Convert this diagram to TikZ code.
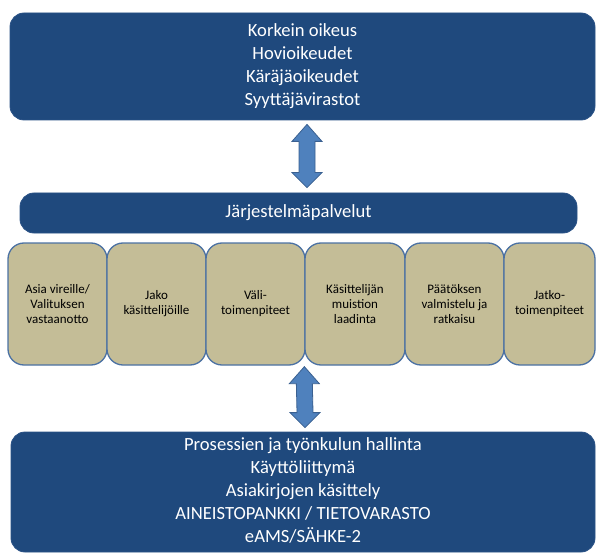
\documentclass[tikz,border=0pt]{standalone}
\usepackage{fontspec}
\setmainfont{Carlito}
\usetikzlibrary{calc}

\definecolor{navy}{HTML}{1F497D}
\definecolor{navyedge}{HTML}{2A5286}
\definecolor{khaki}{HTML}{C4BD97}
\definecolor{stepedge}{HTML}{4B71A3}
\definecolor{arrowfill}{HTML}{4F81BD}
\definecolor{arrowedge}{HTML}{3A6090}

% vertical double-headed block arrow between two points (#1 above #2)
\newcommand\dblarrowshape[2]{%
  \path[link] let \p1=(#1), \p2=(#2) in
    (\x1,\y1) -- (\x1+15pt,\y1-17pt) -- (\x1+8pt,\y1-17pt)
    -- (\x2+8pt,\y2+15pt) -- (\x2+15pt,\y2+15pt) -- (\x2,\y2)
    -- (\x2-15pt,\y2+15pt) -- (\x2-8pt,\y2+15pt)
    -- (\x1-8pt,\y1-17pt) -- (\x1-15pt,\y1-17pt) -- cycle;}

\begin{document}
\begin{tikzpicture}[x=1pt,y=-1pt,
  panel/.style={rectangle, rounded corners=14pt, fill=navy, draw=navyedge,
    line width=0.8pt, text=white, align=center, inner sep=0pt,
    font=\fontsize{18.6}{23}\selectfont},
  stepbox/.style={rectangle, rounded corners=16pt, fill=khaki, draw=stepedge,
    line width=1.3pt, align=center, inner sep=0pt, minimum height=122pt,
    font=\fontsize{13}{15}\selectfont},
  link/.style={fill=arrowfill, draw=arrowedge, line width=0.8pt, line join=miter}]
\useasboundingbox (0,0) rectangle (596,553);

% courts
\node[panel, minimum width=585pt, minimum height=107pt] (top) at (302.5,66.5)
  {Korkein oikeus\\Hovioikeudet\\Käräjäoikeudet\\Syyttäjävirastot};

% system services bar
\node[panel, minimum width=557pt, minimum height=40pt] (bar) at (298.5,213)
  {Järjestelmäpalvelut};

% process steps
\node[stepbox, minimum width=99pt] (s1) at (57.5,304)
  {Asia vireille/\\Valituksen\\vastaanotto};
\node[stepbox, minimum width=99pt] (s2) at (156.5,304)
  {Jako\\käsittelijöille};
\node[stepbox, minimum width=99pt] (s3) at (255.5,304)
  {Väli-\\toimenpiteet};
\node[stepbox, minimum width=100pt] (s4) at (355,304)
  {Käsittelijän\\muistion\\laadinta};
\node[stepbox, minimum width=99pt] (s5) at (454.5,304)
  {Päätöksen\\valmistelu ja\\ratkaisu};
\node[stepbox, minimum width=91pt] (s6) at (549.5,304)
  {Jatko-\\toimenpiteet};

% platform
\node[panel, minimum width=584pt, minimum height=120pt] (base) at (303,492)
  {\raisebox{-5pt}{\begin{tabular}{@{}c@{}}Prosessien ja työnkulun hallinta\\
   Käyttöliittymä\\Asiakirjojen käsittely\\AINEISTOPANKKI / TIETOVARASTO\\
   eAMS/SÄHKE-2\end{tabular}}};

% arrow end points
\coordinate (a1) at ($(top.south)+(4.5,4)$);
\coordinate (a2) at ($(bar.north)+(8.5,-5)$);
\coordinate (b1) at ($(s4.south west)+(0,1)$);
\coordinate (b2) at ($(base.north)+(2,-4)$);

\dblarrowshape{a1}{a2}
\dblarrowshape{b1}{b2}
\end{tikzpicture}
\end{document}
